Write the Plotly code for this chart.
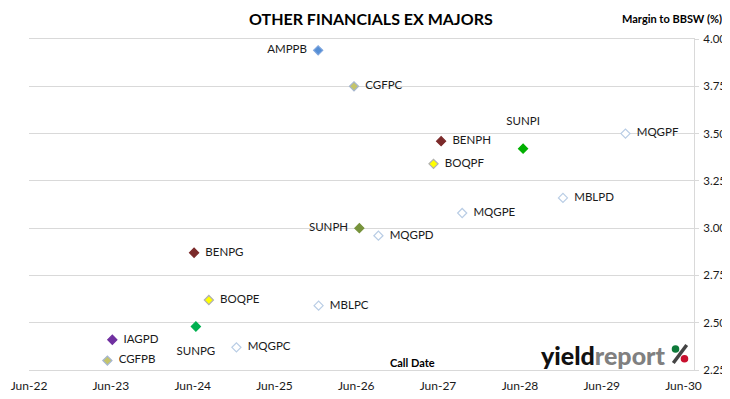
import plotly.graph_objects as go

# ---- data ----
securities = ["AMPPB", "CGFPC", "BENPH", "SUNPI", "MQGPF", "BOQPF", "MBLPD", "MQGPE",
              "SUNPH", "MQGPD", "BENPG", "BOQPE", "MBLPC", "SUNPG", "IAGPD", "MQGPC", "CGFPB"]
call_dates = ["2025-12-13", "2026-05-22", "2027-06-15", "2028-06-15", "2029-09-15", "2027-05-12",
              "2028-12-10", "2027-09-17", "2026-06-15", "2026-09-08", "2024-06-07", "2024-08-12",
              "2025-12-15", "2024-06-15", "2023-06-08", "2024-12-13", "2023-05-17"]
margins = [3.94, 3.75, 3.46, 3.42, 3.50, 3.34, 3.16, 3.08,
           3.00, 2.96, 2.87, 2.62, 2.59, 2.48, 2.41, 2.37, 2.30]
tick_dates = ["2022-06-01", "2023-06-01", "2024-06-01", "2025-06-01", "2026-06-01",
              "2027-06-01", "2028-06-01", "2029-06-01", "2030-06-01"]
tick_labels = ["Jun-22", "Jun-23", "Jun-24", "Jun-25", "Jun-26", "Jun-27", "Jun-28", "Jun-29", "Jun-30"]
y_ticks = [2.25, 2.50, 2.75, 3.00, 3.25, 3.50, 3.75, 4.00]

# ---- styles ----
fill = {"AMPP": "#558ED5", "CGFP": "#C4C46A", "BENP": "#7B2A2A", "BOQP": "#FFFF00",
        "MQGP": "#FFFFFF", "MBLP": "#FFFFFF", "IAGP": "#7030A0"}
line = {"AMPP": "#7FA6DE", "CGFP": "#A6B6CF", "BENP": "#7B2A2A", "BOQP": "#B0B0B0",
        "MQGP": "#B9CDE5", "MBLP": "#B9CDE5", "IAGP": "#7030A0"}
sun_fill = {"SUNPI": "#00B000", "SUNPH": "#77933C", "SUNPG": "#00B050"}
label_side = {"AMPPB": "middle left", "SUNPH": "middle left", "SUNPI": "top center", "SUNPG": "bottom center"}

colors, outlines, positions, labels = [], [], [], []
for s in securities:
    if s in sun_fill:
        colors.append(sun_fill[s]); outlines.append(sun_fill[s])
    else:
        colors.append(fill[s[:4]]); outlines.append(line[s[:4]])
    pos = label_side.get(s, "middle right")
    positions.append(pos)
    if pos == "top center":
        labels.append(s + "<br> ")
    elif pos == "bottom center":
        labels.append(" <br>" + s)
    else:
        labels.append("  " + s + "  ")

FONT = "Lato, 'Open Sans', sans-serif"

fig = go.Figure()
fig.add_trace(go.Scatter(
    x=call_dates, y=margins, text=labels,
    mode="markers+text", textposition=positions,
    marker=dict(symbol="diamond", size=7, color=colors, line=dict(color=outlines, width=1.2)),
    textfont=dict(family=FONT, size=11.5, color="#1a1a1a"),
    hoverinfo="text+x+y", showlegend=False, cliponaxis=False,
))

# logo "%" drawn as a slash and two coloured dots (paper coordinates)
shapes = [
    dict(type="line", xref="paper", yref="paper", x0=0.9689, y0=0.0211, x1=0.989, y1=0.0755,
         line=dict(color="#444444", width=3.5)),
]
for cx, cy, c in [(0.9722, 0.0634, "#0E7A3A"), (0.9857, 0.0338, "#C8102E")]:
    shapes.append(dict(type="circle", xref="paper", yref="paper",
                       x0=cx - 0.0057, x1=cx + 0.0057, y0=cy - 0.0115, y1=cy + 0.0115,
                       fillcolor=c, line=dict(width=0)))

fig.update_layout(
    width=722, height=391,
    margin=dict(l=21, r=36, t=31, b=29),
    paper_bgcolor="white", plot_bgcolor="white",
    font=dict(family=FONT, size=12, color="#1a1a1a"),
    xaxis=dict(type="date", range=["2022-06-01", "2030-07-18"],
               tickvals=tick_dates, ticktext=tick_labels, automargin=False,
               showgrid=False, showline=True, linecolor="#D9D9D9", linewidth=1,
               mirror=True, ticks="", zeroline=False, ticklabelstandoff=5,
               tickfont=dict(family=FONT, size=12, color="#1a1a1a")),
    yaxis=dict(range=[2.25, 4.00], side="right", tickvals=y_ticks, tickformat=".2f",
               automargin=False,
               showgrid=True, gridcolor="#D9D9D9", gridwidth=1,
               showline=True, linecolor="#D9D9D9", linewidth=1,
               ticks="outside", ticklen=4, tickcolor="#D9D9D9", ticklabelstandoff=2,
               zeroline=False, tickfont=dict(family=FONT, size=11.5, color="#1a1a1a")),
    shapes=shapes,
    annotations=[
        dict(text="<b>OTHER FINANCIALS EX MAJORS</b>", xref="paper", yref="paper",
             x=0.515, y=1.0, yshift=21, xanchor="center", yanchor="middle", showarrow=False,
             font=dict(family=FONT, size=16, color="#000000")),
        dict(text="<b>Margin to BBSW (%)</b>", xref="paper", yref="paper",
             x=1.0, xshift=30, y=1.0, yshift=21, xanchor="right", yanchor="middle", showarrow=False,
             font=dict(family=FONT, size=11, color="#000000")),
        dict(text="<b>Call Date</b>", xref="paper", yref="paper",
             x=0.576, y=0.0, yshift=8, xanchor="center", yanchor="middle", showarrow=False,
             font=dict(family=FONT, size=11, color="#000000")),
        dict(text="yield<span style='color:#808080'>report</span>",
             xref="paper", yref="paper", x=1.0, xshift=-27, y=0.0, yshift=15,
             xanchor="right", yanchor="middle", showarrow=False,
             font=dict(family=FONT, size=25, color="#111111", weight=900)),
    ],
)

fig.write_html("out.html")
